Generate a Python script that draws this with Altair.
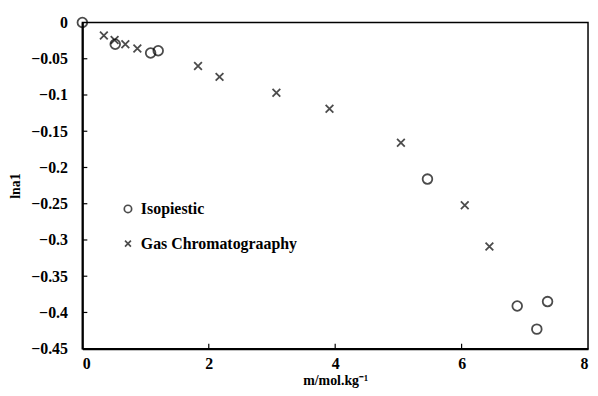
import altair as alt
import pandas as pd

iso_x = [0.0, 0.52, 1.08, 1.20, 5.46, 6.88, 7.19, 7.36]
iso_y = [0.0, -0.030, -0.042, -0.039, -0.216, -0.391, -0.423, -0.385]

gc_x = [0.34, 0.51, 0.68, 0.87, 1.83, 2.17, 3.07, 3.91, 5.04, 6.05, 6.44]
gc_y = [-0.018, -0.024, -0.030, -0.036, -0.060, -0.075, -0.097, -0.119, -0.166, -0.252, -0.309]

series_names = ["Isopiestic", "Gas Chromatograaphy"]
x_ticks = [0, 2, 4, 6, 8]
y_ticks = [0, -0.05, -0.1, -0.15, -0.2, -0.25, -0.3, -0.35, -0.4, -0.45]

W, H = 510, 329
FONT = "Liberation Serif"
CROSS = "M-0.8,-0.8L0.8,0.8M-0.8,0.8L0.8,-0.8"

df = pd.concat([
    pd.DataFrame({"m": iso_x, "lna1": iso_y, "series": series_names[0]}),
    pd.DataFrame({"m": gc_x, "lna1": gc_y, "series": series_names[1]}),
])

xs = alt.Scale(domain=[0, 8], nice=False, zero=False)
ys = alt.Scale(domain=[-0.45, 0], nice=False, zero=False)

x_axis = alt.Axis(values=x_ticks, title="m/mol.kg⁻¹", ticks=False, grid=False, labelOverlap=False,
                  labelPadding=7, format="d",
                  titleX=W / 2, titleY=36, titleBaseline="alphabetic", titleAlign="center")
y_axis = alt.Axis(values=y_ticks, title="lna1", ticks=False, grid=False, labelOverlap=False,
                  labelPadding=15, titlePadding=8,
                  labelExpr="datum.value == 0 ? '0' : format(datum.value, '')")

points = alt.Chart(df).mark_point(filled=False, color="black", strokeWidth=1.8, size=95).encode(
    x=alt.X("m:Q", scale=xs, axis=x_axis, title="m/mol.kg⁻¹"),
    y=alt.Y("lna1:Q", scale=ys, axis=y_axis, title="lna1"),
    shape=alt.Shape("series:N", scale=alt.Scale(domain=series_names, range=["circle", CROSS]),
                    legend=alt.Legend(title=None, orient="none", legendX=38, legendY=180,
                                      symbolSize=55, symbolStrokeWidth=1.7, symbolStrokeColor="black",
                                      labelFont=FONT, labelFontSize=16, labelFontWeight="bold",
                                      labelColor="black", rowPadding=19, labelOffset=5, padding=0)),
)

ydf = pd.DataFrame({"t": [v for v in y_ticks if v not in (0, -0.45)]})
yticks = alt.Chart(ydf).mark_rule(color="black", strokeWidth=1.2).encode(
    y=alt.Y("t:Q", scale=ys, axis=y_axis, title="lna1"), x=alt.value(0), x2=alt.value(5))
xdf = pd.DataFrame({"t": [v for v in x_ticks if v not in (0, 8)]})
xticks = alt.Chart(xdf).mark_rule(color="black", strokeWidth=1.2).encode(
    x=alt.X("t:Q", scale=xs, axis=x_axis, title="m/mol.kg⁻¹"), y=alt.value(H - 5), y2=alt.value(H))

chart = alt.layer(points, yticks, xticks).properties(
    width=W, height=H,
    autosize=alt.AutoSizeParams(type="none"),
    padding={"left": 75, "top": 13, "right": 2, "bottom": 38},
).configure_view(stroke="black", strokeWidth=1.5).configure_axis(
    domainColor="black", domainWidth=2,
    labelFont=FONT, labelFontSize=16, labelFontWeight="bold", labelColor="black",
    titleFont=FONT, titleFontSize=14, titleFontWeight="bold", titleColor="black",
)

chart.save("out.html", embed_options={"renderer": "svg", "actions": False})
